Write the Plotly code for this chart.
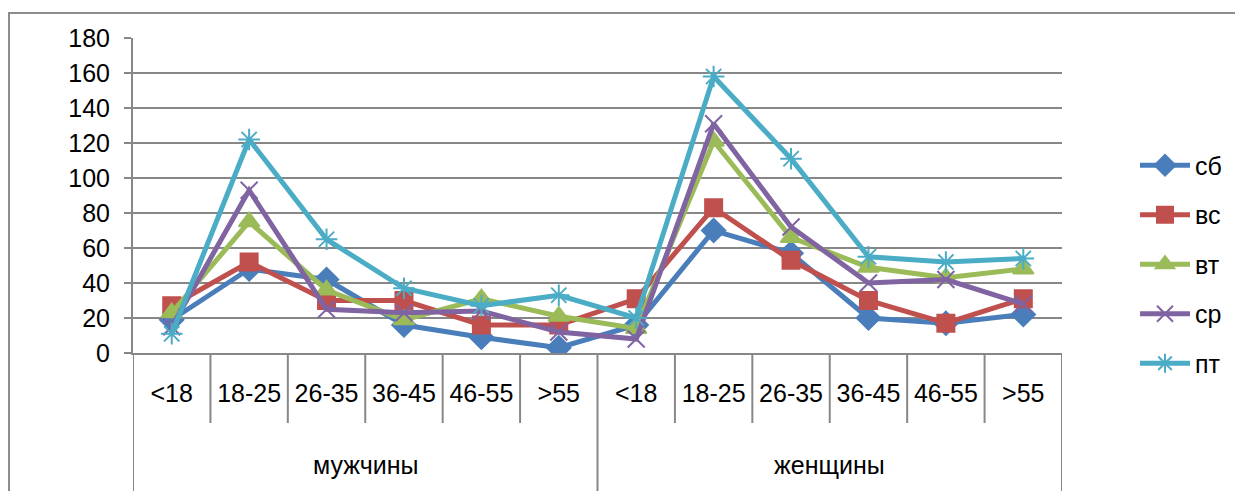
import plotly.graph_objects as go

group_names = ["мужчины", "женщины"]
age_labels = ["<18", "18-25", "26-35", "36-45", "46-55", ">55"]
ages = age_labels * 2
xs = list(range(len(ages)))

sb = [19, 48, 42, 16, 9, 3, 16, 70, 57, 20, 17, 22]
vs = [27, 52, 30, 30, 16, 16, 31, 83, 53, 30, 17, 31]
vt = [23, 75, 36, 19, 31, 21, 14, 121, 66, 49, 43, 48]
sr = [15, 93, 25, 23, 24, 12, 8, 131, 72, 40, 42, 28]
pt = [11, 122, 65, 37, 27, 33, 20, 158, 111, 55, 52, 54]

series = [
    ("сб", sb, "#4A7EBB", "diamond", 18),
    ("вс", vs, "#C0504D", "square", 17),
    ("вт", vt, "#9BBB59", "triangle-up", 18),
    ("ср", sr, "#8064A2", "x-thin-open", 17),
    ("пт", pt, "#4BACC6", "asterisk-open", 18),
]

fig = go.Figure()
for name, vals, color, sym, size in series:
    fig.add_trace(go.Scatter(
        x=xs, y=vals, name=name, mode="lines+markers",
        legendgroup=name,
        line=dict(color=color, width=5),
        marker=dict(symbol=sym, size=size, color=color,
                    line=dict(color=color, width=2)),
    ))

GRID = "#878787"
FONT = "Liberation Sans, Arial, sans-serif"
n = len(ages)
per = len(age_labels)

shapes = []
# inner category separators
for k in range(1, n):
    if k % per == 0:
        continue
    shapes.append(dict(type="line", xref="x", yref="paper",
                       x0=k - 0.5, x1=k - 0.5, y0=0, y1=-70 / 315,
                       line=dict(color=GRID, width=2)))
# group dividers
for k in range(0, n + 1, per):
    shapes.append(dict(type="line", xref="x", yref="paper",
                       x0=k - 0.5, x1=k - 0.5, y0=0, y1=-160 / 315,
                       line=dict(color=GRID, width=2)))
# outer chart border
shapes.append(dict(type="rect", xref="paper", yref="paper",
                   x0=(1 - 125) / 929, x1=(1300 - 125) / 929,
                   y0=-1, y1=(345 - 5) / 315,
                   line=dict(color="#8C8C8C", width=2), layer="below"))

annotations = []
for gi, g in enumerate(group_names):
    annotations.append(dict(text=g, xref="x", yref="paper",
                            x=gi * per + (per - 1) / 2, y=-112 / 315,
                            showarrow=False, yanchor="middle",
                            font=dict(size=25, family=FONT, color="black")))

fig.update_layout(
    width=1243, height=491,
    margin=dict(l=125, r=189, t=30, b=146, autoexpand=False),
    paper_bgcolor="white", plot_bgcolor="white",
    font=dict(family=FONT, size=25, color="black"),
    showlegend=True,
    legend=dict(x=1.0786, xanchor="left", y=0.281, yanchor="middle",
                tracegroupgap=14, font=dict(size=25), itemwidth=50),
    xaxis=dict(
        range=[-0.5, n - 0.5], tickvals=xs, ticktext=ages,
        showgrid=False, zeroline=False,
        showline=True, linecolor=GRID, linewidth=2,
        ticks="", ticklabelstandoff=17, automargin=False,
        tickfont=dict(size=25),
    ),
    yaxis=dict(
        range=[0, 180], dtick=20, showgrid=True, gridcolor=GRID, gridwidth=2,
        showline=True, linecolor=GRID, linewidth=2,
        ticks="outside", ticklen=7, tickcolor=GRID, tickwidth=2,
        zeroline=False, ticklabelstandoff=9, automargin=False,
    ),
    shapes=shapes,
    annotations=annotations,
)

fig.write_html("out.html")
